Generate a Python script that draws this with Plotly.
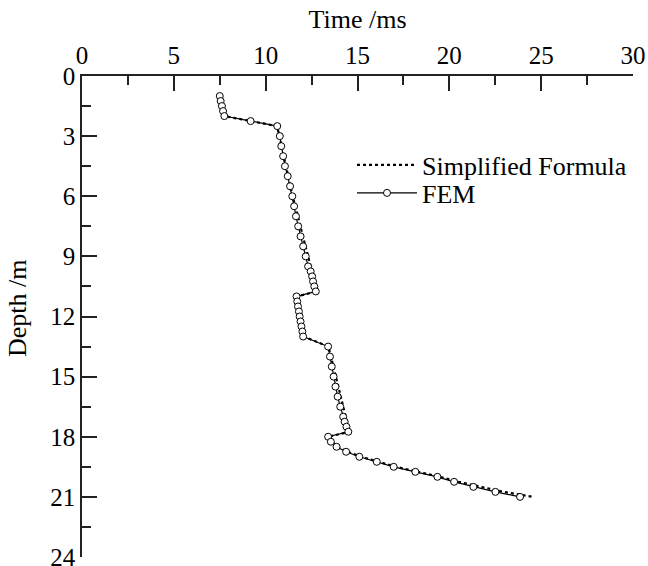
import plotly.graph_objects as go

# FEM results (time in ms, depth in m)
fem_depth = [1.0, 1.25, 1.5, 1.75, 2.0, 2.25,
             2.5, 3.0, 3.5, 4.0, 4.5, 5.0, 5.5, 6.0, 6.5, 7.0, 7.5, 8.0, 8.5, 9.0, 9.5,
             9.75, 10.0, 10.25, 10.5, 10.75,
             11.0, 11.25, 11.5, 11.75, 12.0, 12.25, 12.5, 12.75, 13.0,
             13.5, 14.0, 14.5, 15.0, 15.5, 16.0, 16.5, 17.0, 17.25, 17.5, 17.75,
             18.0, 18.25, 18.5, 18.75, 19.0, 19.25, 19.5, 19.75, 20.0, 20.25, 20.5, 20.75, 21.0]
fem_time = [7.50, 7.55, 7.62, 7.68, 7.75, 9.18,
            10.63, 10.77, 10.85, 10.95, 11.05, 11.20, 11.33, 11.45, 11.55, 11.65, 11.77, 11.90, 12.04, 12.18, 12.31,
            12.45, 12.53, 12.58, 12.65, 12.73,
            11.68, 11.72, 11.76, 11.81, 11.85, 11.90, 11.95, 12.00, 12.04,
            13.40, 13.50, 13.60, 13.70, 13.80, 13.92, 14.06, 14.22, 14.30, 14.40, 14.50,
            13.40, 13.55, 13.86, 14.38, 15.10, 16.05, 16.97, 18.15, 19.35, 20.26, 21.31, 22.51, 23.85]

# Simplified formula
sf_depth = [1.0, 2.0, 2.25, 2.5, 6.0, 10.75, 11.0, 13.0, 13.5, 17.75,
            18.0, 18.25, 18.5, 18.75, 19.0, 19.25, 19.5, 19.75, 20.0, 20.25, 20.5, 20.75, 21.0]
sf_time = [7.48, 7.74, 9.20, 10.62, 11.47, 12.80, 11.68, 12.06, 13.42, 14.56,
           13.42, 13.60, 13.92, 14.45, 15.20, 16.15, 17.10, 18.30, 19.50, 20.50, 21.65, 22.95, 24.55]

x_ticks = [0, 5, 10, 15, 20, 25, 30]
y_ticks = [0, 3, 6, 9, 12, 15, 18, 21, 24]

FONT = "Liberation Serif, Times New Roman, serif"
AX = "#222222"

TOP, BOT = 76, 557
PH = BOT - TOP

fig = go.Figure()
fig.add_trace(go.Scatter(
    x=sf_time, y=sf_depth, mode="lines", name="Simplified Formula",
    line=dict(color="black", width=2.2, dash="dot"), legend="legend",
))
fig.add_trace(go.Scatter(
    x=fem_time, y=fem_depth, mode="lines+markers", name="FEM",
    line=dict(color="black", width=1.2),
    marker=dict(symbol="circle", size=7, color="white", line=dict(color="black", width=1)),
    legend="legend2",
))

leg_common = dict(xanchor="left", yanchor="middle", bgcolor="rgba(0,0,0,0)",
                  font=dict(size=26, family=FONT, color="black"), itemwidth=60)

fig.update_layout(
    width=648, height=566,
    margin=dict(l=82, r=15, t=TOP, b=566 - BOT),
    paper_bgcolor="white", plot_bgcolor="white",
    font=dict(family=FONT, size=24, color="black"),
    showlegend=True,
    legend=dict(x=0.49, y=(BOT - 165) / PH, **leg_common),
    legend2=dict(x=0.49, y=(BOT - 193) / PH, **leg_common),
    xaxis=dict(
        side="top", range=[0, 30], tickvals=x_ticks, ticktext=[str(v) for v in x_ticks],
        ticks="inside", ticklen=15, tickwidth=1.5, tickcolor=AX,
        showline=True, linecolor=AX, linewidth=1.5, mirror=False,
        showgrid=False, zeroline=False, ticklabeloverflow="allow", automargin=False,
        minor=dict(dtick=2.5, ticks="inside", ticklen=9, tickwidth=1.5, tickcolor=AX, showgrid=False),
        title=dict(text="Time /ms", font=dict(size=26, family=FONT), standoff=6),
        tickfont=dict(size=25, family=FONT),
    ),
    yaxis=dict(
        range=[24, 0], tickvals=y_ticks, ticktext=[str(v) for v in y_ticks],
        ticks="inside", ticklen=15, tickwidth=1.5, tickcolor=AX,
        showline=True, linecolor=AX, linewidth=1.5, mirror=False,
        showgrid=False, zeroline=False, ticklabeloverflow="allow", automargin=False,
        minor=dict(dtick=1.5, ticks="inside", ticklen=9, tickwidth=1.5, tickcolor=AX, showgrid=False),
        tickfont=dict(size=25, family=FONT),
    ),
    annotations=[dict(
        text="Depth /m", textangle=-90, xref="paper", yref="paper",
        x=(17 - 82) / 551, y=(BOT - 308) / PH, xanchor="center", yanchor="middle",
        showarrow=False, font=dict(size=26, family=FONT, color="black"),
    )],
)

fig.write_html("out.html")
